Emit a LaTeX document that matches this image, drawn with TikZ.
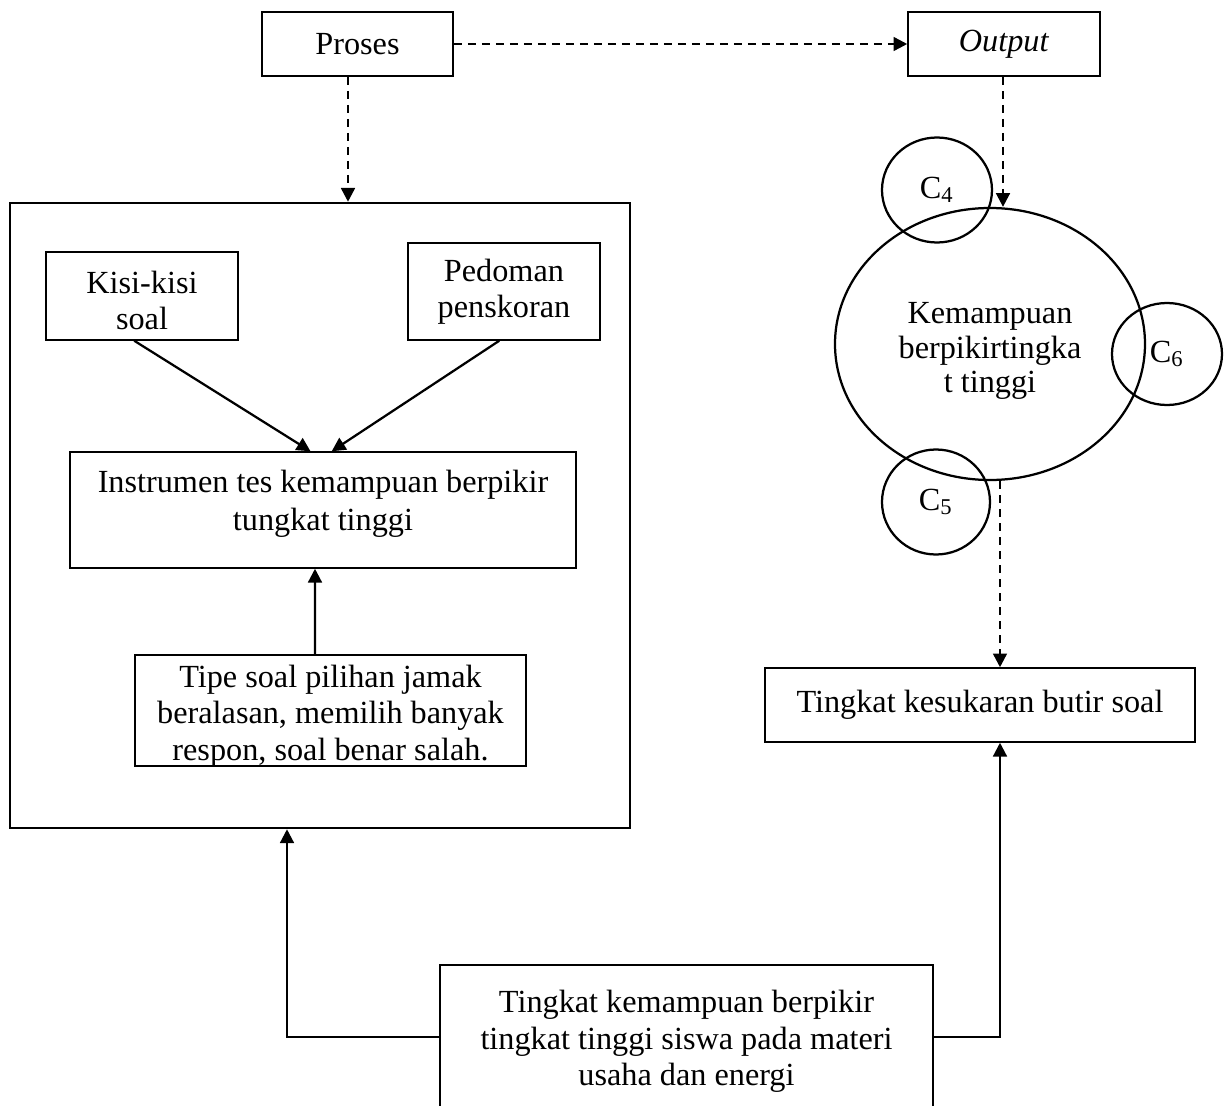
\documentclass[tikz,border=0pt]{standalone}
\usepackage{fontspec}
\setmainfont{Liberation Serif}
\usetikzlibrary{arrows.meta,shapes.geometric}
\newcommand\mylines[2]{\raisebox{#1}[\height][\depth]{\begin{tabular}{@{}c@{}}#2\end{tabular}}}
\begin{document}
\begin{tikzpicture}[x=0.4pt,y=-0.4pt,
  every node/.style={font=\fontsize{12.9}{14.6}\selectfont},
  boxnode/.style={draw,line width=0.6pt,rectangle,inner sep=0pt,align=center},
  ringnode/.style={draw,line width=0.9pt,ellipse,inner sep=0pt,align=center},
  dasharrow/.style={line width=1pt,dash pattern=on 3.2pt off 2.4pt,-{Triangle[length=5.5pt,width=5.5pt]}},
  solidarrow/.style={line width=0.9pt,-{Triangle[length=5.5pt,width=5.5pt]}},
  plainline/.style={line width=0.6pt}]
\useasboundingbox (0,0) rectangle (1229,1106);
\clip (0,0) rectangle (1229,1106);
\node[boxnode,minimum width=76.4pt,minimum height=25.6pt] (proses) at (357.5,44) {Proses};
\node[boxnode,minimum width=76.8pt,minimum height=25.6pt] (outbox) at (1004,44) {\textit{Output}};
\node[draw,line width=1pt,rectangle,inner sep=0pt,minimum width=248pt,minimum height=250pt] (frame) at (320,515.5) {};
\node[boxnode,minimum width=76.8pt,minimum height=35.2pt] (kisi) at (142,296) {\mylines{-3.2pt}{Kisi-kisi\\soal}};
\node[boxnode,minimum width=76.8pt,minimum height=38.8pt] (pedoman) at (504,291.5) {Pedoman\\penskoran};
\node[boxnode,minimum width=202.4pt,minimum height=46.4pt,font=\fontsize{12.9}{15.4}\selectfont] (instr) at (323,510) {\mylines{2.4pt}{Instrumen tes kemampuan berpikir\\tungkat tinggi}};
\node[boxnode,minimum width=156.4pt,minimum height=44.4pt] (tipe) at (330.5,710.5) {\mylines{-2.4pt}{Tipe soal pilihan jamak\\beralasan, memilih banyak\\respon, soal benar salah.}};
\node[boxnode,minimum width=172pt,minimum height=29.6pt] (kes) at (980,705) {Tingkat kesukaran butir soal};
\node[ringnode,minimum width=124pt,minimum height=108.8pt,font=\fontsize{12.9}{13.8}\selectfont] (big) at (990,344) {\mylines{-3pt}{Kemampuan\\berpikirtingka\\t tinggi}};
\node[ringnode,minimum width=44pt,minimum height=42pt] (c4) at (937,190) {C\textsubscript{4}};
\node[ringnode,minimum width=44pt,minimum height=40.8pt] (c6) at (1167,354) {C\textsubscript{6}};
\node[ringnode,minimum width=43.2pt,minimum height=42pt] (c5) at (936,502) {C\textsubscript{5}};
\node[align=center,inner sep=0pt] (bottom) at (686.5,1041.5) {Tingkat kemampuan berpikir\\tingkat tinggi siswa pada materi\\usaha dan energi};
\coordinate (bl) at (440,965);
\coordinate (br) at (933,965);
\draw[plainline] (440,1140) -- (bl) -- (br) -- (933,1140);
\coordinate (midl) at (440,1037);
\coordinate (midr) at (933,1037);
\coordinate (lx) at (287,0);
\coordinate (rx) at (1000,0);
\coordinate (px) at (348,0);
\coordinate (ox) at (1003,0);
% connectors
\draw[dasharrow] (proses.east) -- (outbox.west);
\draw[dasharrow] (proses.south -| px) -- (frame.north -| px);
\draw[dasharrow] (outbox.south -| ox) -- (big.north -| ox);
\draw[dasharrow] (big.south -| rx) -- (kes.north -| rx);
\draw[solidarrow] (kisi.south west) ++(89,0) -- ([xshift=-5pt]instr.north);
\draw[solidarrow] (pedoman.south west) ++(92,0) -- ([xshift=3.5pt]instr.north);
\draw[solidarrow] (tipe.north -| instr.south) ++(-8,0) -- ([xshift=-3.2pt]instr.south);
\draw[solidarrow] (midl) -- (midl -| lx) -- (frame.south -| lx);
\draw[solidarrow] (midr) -- (midr -| rx) -- (kes.south -| rx);
\end{tikzpicture}
\end{document}
